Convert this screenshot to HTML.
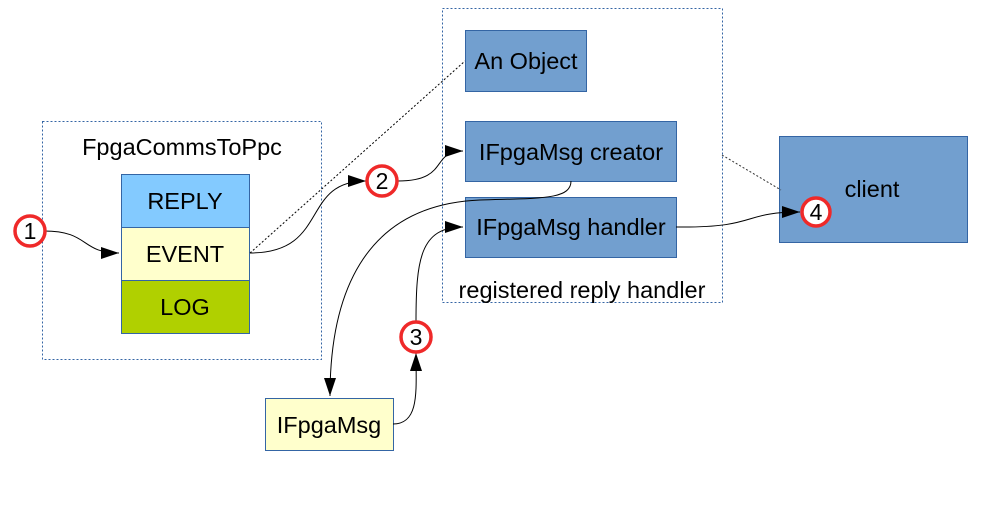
<!DOCTYPE html>
<html><head><style>body{margin:0;background:#fff}svg{display:block}text{font-family:"Liberation Sans",sans-serif;fill:#000}</style></head><body>
<svg width="998" height="510" viewBox="0 0 998 510" xmlns="http://www.w3.org/2000/svg">
<defs><marker id="a" markerWidth="20" markerHeight="12" refX="18" refY="6" orient="auto" markerUnits="userSpaceOnUse"><path d="M0,0 L18,6 L0,12 z" fill="#000"/></marker></defs>
<rect x="42.5" y="121.5" width="279" height="238" fill="none" stroke="#3465a4" stroke-dasharray="2,2"/>
<rect x="442.5" y="8.5" width="280" height="294" fill="none" stroke="#3465a4" stroke-dasharray="2,2"/>
<text x="182" y="155" font-size="23.5" text-anchor="middle">FpgaCommsToPpc</text>
<text x="582" y="298" font-size="23.5" text-anchor="middle">registered reply handler</text>
<rect x="121.5" y="174.5" width="128" height="53" fill="#83caff" stroke="#3465a4"/>
<rect x="121.5" y="227.5" width="128" height="53" fill="#ffffcc" stroke="#3465a4"/>
<rect x="121.5" y="280.5" width="128" height="53" fill="#b0d000" stroke="#3465a4"/>
<text x="185" y="209" font-size="23.5" text-anchor="middle">REPLY</text>
<text x="185" y="262" font-size="23.5" text-anchor="middle">EVENT</text>
<text x="185" y="315" font-size="23.5" text-anchor="middle">LOG</text>
<rect x="465.5" y="30.5" width="121" height="61" fill="#729fcf" stroke="#3465a4"/>
<text x="526" y="69" font-size="23.5" text-anchor="middle">An Object</text>
<rect x="465.5" y="121.5" width="211" height="60" fill="#729fcf" stroke="#3465a4"/>
<text x="571" y="160" font-size="23.5" text-anchor="middle">IFpgaMsg creator</text>
<rect x="465.5" y="197.5" width="211" height="60" fill="#729fcf" stroke="#3465a4"/>
<text x="571" y="235" font-size="23.5" text-anchor="middle">IFpgaMsg handler</text>
<rect x="779.5" y="136.5" width="188" height="106" fill="#729fcf" stroke="#3465a4"/>
<text x="872" y="197" font-size="23.5" text-anchor="middle">client</text>
<rect x="265.5" y="398.5" width="128" height="52" fill="#ffffcc" stroke="#3465a4"/>
<text x="329" y="433" font-size="23.5" text-anchor="middle">IFpgaMsg</text>
<g fill="none" stroke="#000" stroke-width="1">
<path d="M250,253 L465,61" stroke-dasharray="2,2"/>
<path d="M722,155 L781,190" stroke-dasharray="2,2" stroke="#333"/>
<path d="M44,231 C90,231 80,253 119,253" marker-end="url(#a)"/>
<path d="M250,253 C330,253 300,181 366,181" marker-end="url(#a)"/>
<path d="M398,181 C450,181 430,151 463,151" marker-end="url(#a)"/>
<path d="M571,181 C571,200 540,198 480,200 C360,205 330,300 330,396" marker-end="url(#a)"/>
<path d="M393,424 C420,424 416,390 416,353" marker-end="url(#a)"/>
<path d="M416,322 C416,260 420,227 463,227" marker-end="url(#a)"/>
<path d="M676,227 C760,228 740,212 800,212" marker-end="url(#a)"/>
</g>
<g stroke="#ef2929" stroke-width="3.5" fill="#fff">
<circle cx="30" cy="231" r="15"/><circle cx="382" cy="181" r="15"/><circle cx="416" cy="337" r="15"/><circle cx="816" cy="212" r="14"/>
</g>
<g font-size="23" text-anchor="middle">
<text x="30" y="239">1</text><text x="382" y="189">2</text><text x="416" y="345">3</text><text x="816" y="220">4</text>
</g>
</svg>
</body></html>
